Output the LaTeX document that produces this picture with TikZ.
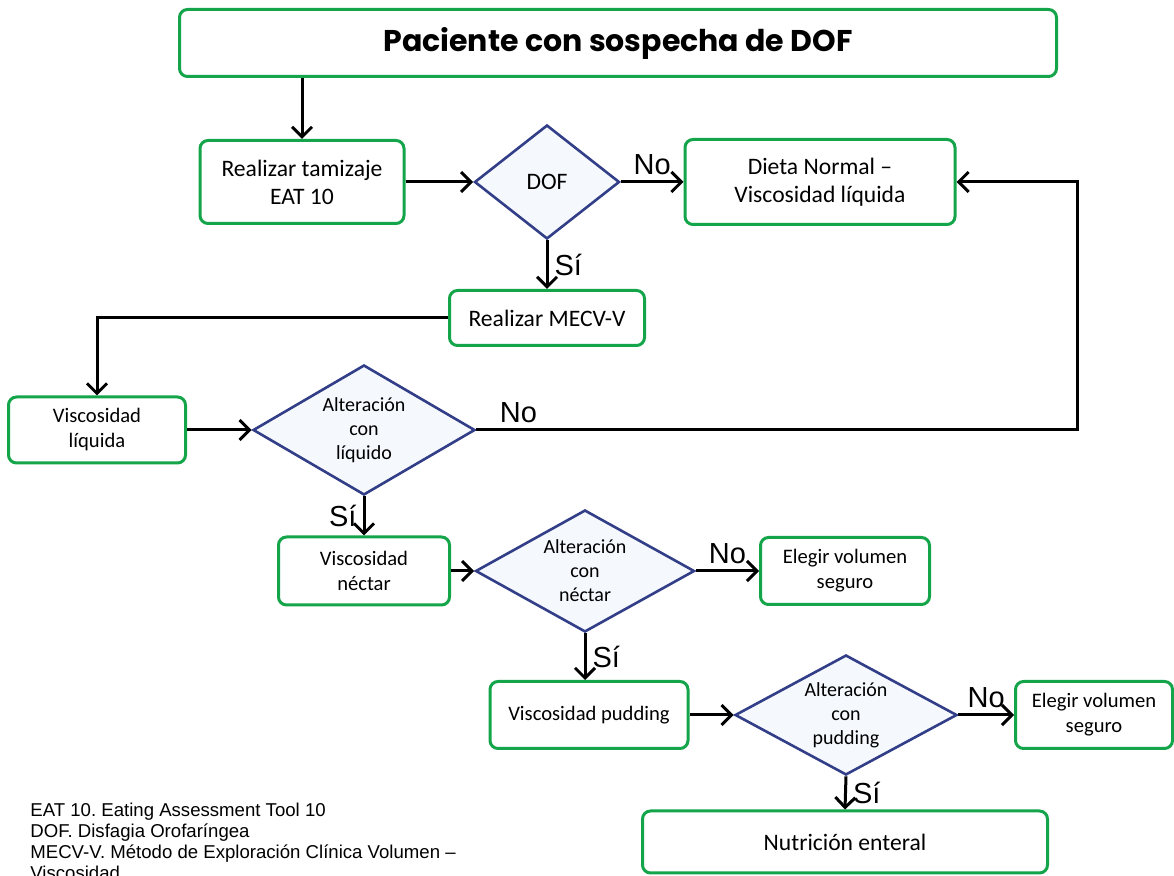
\documentclass[tikz,border=0pt]{standalone}
\usepackage{fontspec}
\setmainfont{Carlito}
\newfontfamily\arial{Liberation Sans}
\newfontfamily\titulofont{Poppins}
\usetikzlibrary{shapes.geometric}
\usetikzlibrary{arrows.meta}
\frenchspacing

\definecolor{verde}{RGB}{20,165,75}
\definecolor{azul}{RGB}{50,62,135}
\definecolor{celeste}{RGB}{245,248,253}

\begin{document}
\begin{tikzpicture}[x=0.5pt,y=-0.5pt,
						caja/.style={draw=verde,line width=1.5pt,rounded corners=4pt,fill=white,align=center,inner sep=2pt,font=\fontsize{11.8}{14}\selectfont},
						cajachica/.style={caja,font=\fontsize{10.3}{12.5}\selectfont},
						rombo/.style={diamond,draw=azul,line width=1.3pt,fill=celeste,align=center,inner sep=0pt,aspect=1.7,font=\fontsize{10}{12}\selectfont},
						etiq/.style={font=\arial\fontsize{14.5}{16}\selectfont,inner sep=3pt},
						flecha/.style={-{Straight Barb[length=5pt,width=10pt]},line width=1.5pt}
						]
						\useasboundingbox (0,0) rectangle (1174,876);
						\node[caja,minimum width=438.5pt,minimum height=33.5pt,font=\titulofont\bfseries\fontsize{15}{17}\selectfont](pac) at (618,43) {Paciente con sospecha de DOF};
						\node[caja,minimum width=102pt,minimum height=41.5pt](tam) at (302,182) {Realizar tamizaje\\EAT 10};
						\node[rombo,aspect=1.27,minimum width=72.5pt,minimum height=57pt,font=\fontsize{11.8}{14}\selectfont](dof) at (547,182) {DOF};
						\node[caja,minimum width=135pt,minimum height=42.5pt](dieta) at (820,182) {Dieta Normal –\\Viscosidad líquida};
						\node[caja,minimum width=97.5pt,minimum height=27.5pt](mecv) at (547,318) {Realizar MECV-V};
						\node[cajachica,minimum width=88.5pt,minimum height=33pt](vliq) at (97,430) {Viscosidad\\líquida};
						\node[rombo,minimum width=111pt,minimum height=65pt](aliq) at (364,430) {Alteración\\con\\líquido};
						\node[cajachica,minimum width=85.5pt,minimum height=34pt](vnec) at (364,571) {Viscosidad\\néctar};
						\node[rombo,minimum width=109.5pt,minimum height=61pt](anec) at (585,571) {Alteración\\con\\néctar};
						\node[cajachica,minimum width=84.5pt,minimum height=33.5pt](elg1) at (845,571) {Elegir volumen\\seguro};
						\node[cajachica,minimum width=99pt,minimum height=33.5pt](vpud) at (589,715) {Viscosidad pudding};
						\node[rombo,minimum width=111pt,minimum height=60pt](apud) at (846,715) {Alteración\\con\\pudding};
						\node[cajachica,minimum width=78.5pt,minimum height=33.5pt](elg2) at (1094,715) {Elegir volumen\\seguro};
						\node[caja,minimum width=202.5pt,minimum height=31pt](nut) at (845,842) {Nutrición enteral};
						\coordinate (retorno) at (1077,430);
						\node[anchor=north west,align=left,inner sep=0pt,font=\arial\fontsize{9.3}{10.5}\selectfont](notas) at (30,803) {EAT 10. Eating Assessment Tool 10\\DOF. Disfagia Orofaríngea\\MECV-V. Método de Exploración Clínica Volumen –\\Viscosidad};
						\draw[flecha] (tam.north |- pac.south) -- (tam.north);
						\draw[flecha] (tam.east) -- (dof.west);
						\draw[flecha] (dof.east) -- node[etiq,above]{No} (dieta.west);
						\draw[flecha] (dof.south) -- node[etiq,right]{Sí} (mecv.north);
						\draw[flecha] (mecv.west) -| (vliq.north);
						\draw[flecha] (vliq.east) -- (aliq.west);
						\draw[flecha] (aliq.east) -- node[etiq,above,pos=0.07]{No} (retorno) |- (dieta.east);
						\draw[flecha] (aliq.south) -- node[etiq,left]{Sí} (vnec.north);
						\draw[flecha] (vnec.east) -- (anec.west);
						\draw[flecha] (anec.east) -- node[etiq,above]{No} (elg1.west);
						\draw[flecha] (anec.south) -- node[etiq,right]{Sí} (anec.south |- vpud.north);
						\draw[flecha] (vpud.east) -- (apud.west);
						\draw[flecha] (apud.east) -- node[etiq,above]{No} (elg2.west);
						\draw[flecha] (apud.south) -- node[etiq,right]{Sí} (nut.north);
						\end{tikzpicture}
\end{document}
